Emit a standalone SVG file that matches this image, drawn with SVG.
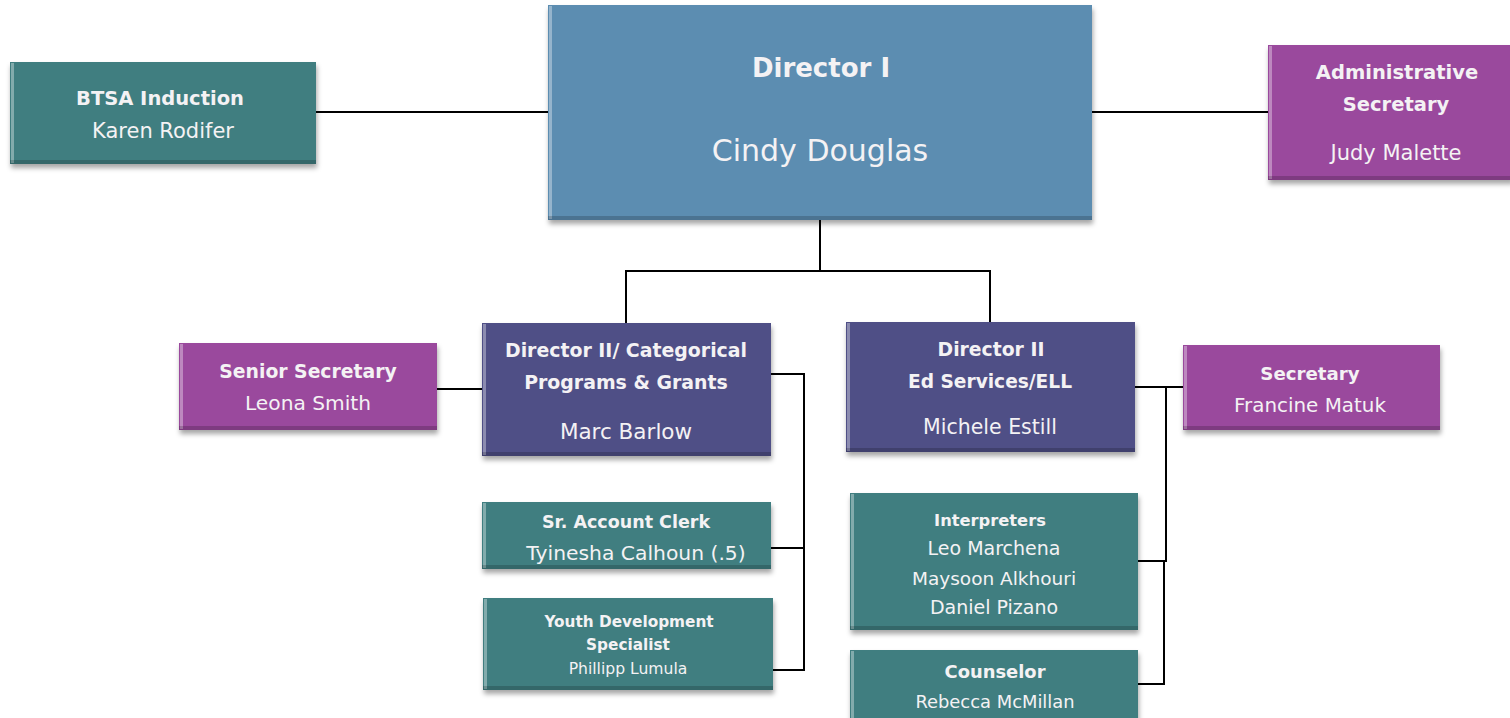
<svg xmlns="http://www.w3.org/2000/svg" width="1510" height="718" viewBox="0 0 1510 718">
<defs>
<filter id="sh" x="-5%" y="-10%" width="115%" height="130%">
<feDropShadow dx="1" dy="4" stdDeviation="2.5" flood-color="#000" flood-opacity="0.35"/>
</filter>
<style>
.box{filter:url(#sh)}
.teal{fill:#417e80}
.blue{fill:#5b8db1}
.purp{fill:#9a4a9d}
.navy{fill:#4f4f86}
.edge{fill:#ffffff;opacity:0.35}
.bot{fill:#000000;opacity:0.18}
text{font-family:"DejaVu Sans","Liberation Sans",sans-serif;fill:#f4f2f4;text-anchor:middle}
.b{font-weight:bold}
.c{fill:none;stroke:#000;stroke-width:2}
</style>
</defs>
<g id="connectors">
<path class="c" d="M316,112H548"/>
<path class="c" d="M1092,112H1268"/>
<path class="c" d="M820,220V271H626V323M820,271H990V322"/>
<path class="c" d="M437,389H482"/>
<path class="c" d="M771,374H804V670H773M771,548H804"/>
<path class="c" d="M1135,387H1183M1166,387V561H1138M1164,561V684H1138"/>
</g>
<g id="btsa">
<rect class="box teal" x="10" y="62" width="306" height="102"/>
<rect class="edge" x="11" y="63" width="3" height="100"/><rect class="bot" x="10" y="160" width="306" height="4"/>
<text class="b" x="160" y="105" font-size="19.5">BTSA Induction</text>
<text x="163" y="138" font-size="21">Karen Rodifer</text>
</g>
<g id="director1">
<rect class="box blue" x="548" y="5" width="544" height="215"/>
<rect class="edge" x="549" y="6" width="3" height="213"/><rect class="bot" x="548" y="216" width="544" height="4"/>
<text class="b" x="821" y="77" font-size="26">Director I</text>
<text x="820" y="161" font-size="30">Cindy Douglas</text>
</g>
<g id="adminsec">
<rect class="box purp" x="1268" y="45" width="245" height="135"/>
<rect class="edge" x="1269" y="46" width="3" height="133"/><rect class="bot" x="1268" y="176" width="245" height="4"/>
<text class="b" x="1397" y="79" font-size="19.5">Administrative</text>
<text class="b" x="1396" y="111" font-size="19.5">Secretary</text>
<text x="1396" y="160" font-size="21">Judy Malette</text>
</g>
<g id="seniorsec">
<rect class="box purp" x="179" y="343" width="258" height="87"/>
<rect class="edge" x="180" y="344" width="3" height="85"/><rect class="bot" x="179" y="426" width="258" height="4"/>
<text class="b" x="308" y="378" font-size="18.8">Senior Secretary</text>
<text x="308" y="410" font-size="20.2">Leona Smith</text>
</g>
<g id="director2cat">
<rect class="box navy" x="482" y="323" width="289" height="133"/>
<rect class="edge" x="483" y="324" width="3" height="131"/><rect class="bot" x="482" y="452" width="289" height="4"/>
<text class="b" x="626" y="357" font-size="18.9">Director II/ Categorical</text>
<text class="b" x="626" y="389" font-size="18.9">Programs &amp; Grants</text>
<text x="626" y="439" font-size="21.5">Marc Barlow</text>
</g>
<g id="director2ed">
<rect class="box navy" x="846" y="322" width="289" height="130"/>
<rect class="edge" x="847" y="323" width="3" height="128"/><rect class="bot" x="846" y="448" width="289" height="4"/>
<text class="b" x="991" y="356" font-size="18.8">Director II</text>
<text class="b" x="990" y="388" font-size="18.6">Ed Services/ELL</text>
<text x="990" y="434" font-size="20.5">Michele Estill</text>
</g>
<g id="secretary">
<rect class="box purp" x="1183" y="345" width="257" height="85"/>
<rect class="edge" x="1184" y="346" width="3" height="83"/><rect class="bot" x="1183" y="426" width="257" height="4"/>
<text class="b" x="1310" y="380" font-size="18.2">Secretary</text>
<text x="1310" y="412" font-size="19.9">Francine Matuk</text>
</g>
<g id="acctclerk">
<rect class="box teal" x="482" y="502" width="289" height="67"/>
<rect class="edge" x="483" y="503" width="3" height="65"/><rect class="bot" x="482" y="565" width="289" height="4"/>
<text class="b" x="626" y="528" font-size="17.5">Sr. Account Clerk</text>
<text x="636" y="560" font-size="20.3">Tyinesha Calhoun (.5)</text>
</g>
<g id="youthdev">
<rect class="box teal" x="483" y="598" width="290" height="92"/>
<rect class="edge" x="484" y="599" width="3" height="90"/><rect class="bot" x="483" y="686" width="290" height="4"/>
<text class="b" x="629" y="627" font-size="15.3">Youth Development</text>
<text class="b" x="628" y="650" font-size="15.3">Specialist</text>
<text x="628" y="674" font-size="15.6">Phillipp Lumula</text>
</g>
<g id="interpreters">
<rect class="box teal" x="850" y="493" width="288" height="137"/>
<rect class="edge" x="851" y="494" width="3" height="135"/><rect class="bot" x="850" y="626" width="288" height="4"/>
<text class="b" x="990" y="526" font-size="16.3">Interpreters</text>
<text x="994" y="555" font-size="19">Leo Marchena</text>
<text x="994" y="585" font-size="18.5">Maysoon Alkhouri</text>
<text x="994" y="614" font-size="19">Daniel Pizano</text>
</g>
<g id="counselor">
<rect class="box teal" x="850" y="650" width="288" height="72"/>
<rect class="edge" x="851" y="651" width="3" height="70"/>
<text class="b" x="995" y="678" font-size="17.9">Counselor</text>
<text x="995" y="708" font-size="17.9">Rebecca McMillan</text>
</g>
</svg>
